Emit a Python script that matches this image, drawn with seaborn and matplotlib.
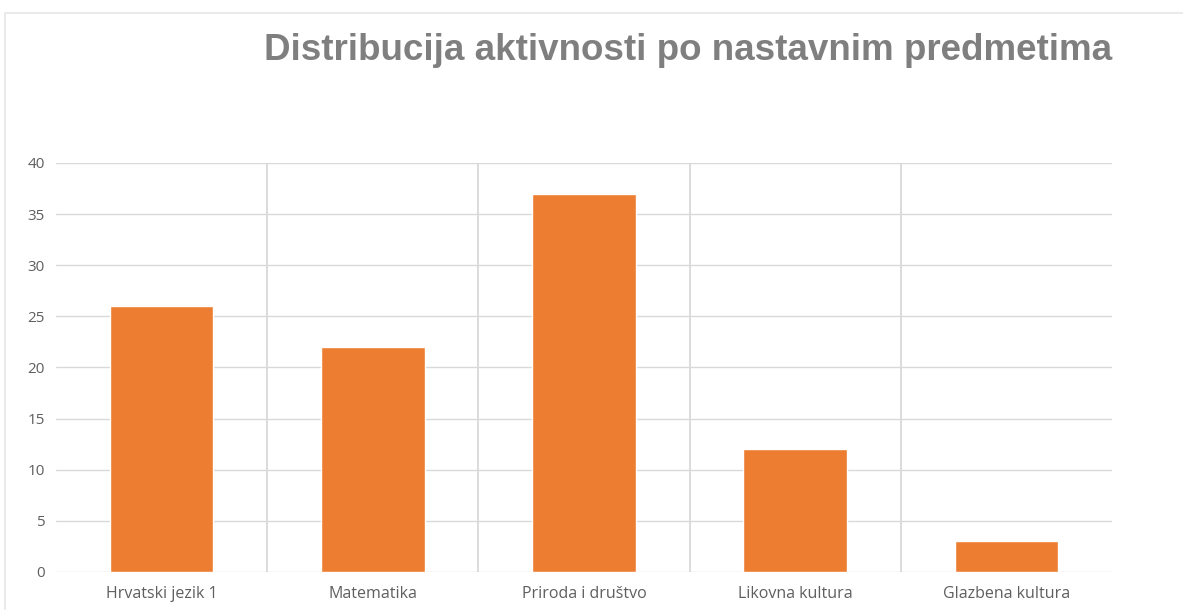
import matplotlib
matplotlib.use("Agg")
import matplotlib.pyplot as plt
import seaborn as sns
import numpy as np
import pandas as pd
from matplotlib.patches import Rectangle

categories = ["Hrvatski jezik 1", "Matematika", "Priroda i društvo", "Likovna kultura", "Glazbena kultura"]
values = [26, 22, 37, 12, 3]
yticks = [0, 5, 10, 15, 20, 25, 30, 35, 40]
title = "Distribucija aktivnosti po nastavnim predmetima"

df = pd.DataFrame({"predmet": categories, "broj": values})

sns.set_theme(style="white")
plt.rcParams['font.family'] = ['Open Sans', 'DejaVu Sans']

fig = plt.figure(figsize=(11.83, 6.10), dpi=100)
ax = fig.add_axes([0.0473, 0.0623, 0.8927, 0.6705])

sns.barplot(data=df, x="predmet", y="broj", color="#ED7D31", width=0.49,
            saturation=1, ax=ax, zorder=3)

ax.set_ylim(0, 40)
ax.set_xlim(-0.5, len(categories) - 0.5)
ax.set_yticks(yticks)
ax.set_yticklabels([str(t) for t in yticks])
ax.set_xticks(np.arange(len(categories) - 1) + 0.5, minor=True)
ax.grid(axis="y", which="major", color="#d9d9d9", linewidth=1.0, zorder=0)
ax.grid(axis="x", which="minor", color="#d9d9d9", linewidth=1.3, zorder=0)
ax.grid(axis="x", which="major", visible=False)
ax.tick_params(axis="both", which="both", length=0, colors="#5f5f5f")
ax.tick_params(axis="x", labelsize=11.5, pad=10)
ax.tick_params(axis="y", labelsize=11, pad=8)
ax.set_xlabel("")
ax.set_ylabel("")
for s in ax.spines.values():
    s.set_visible(False)

fig.text(0.5817, 0.918, title, ha="center", va="center", fontsize=26.5, fontweight="bold",
         color="#7f7f7f", family=["Liberation Sans", "DejaVu Sans"])

# chart frame
fig.patches.append(Rectangle((5 / 1183, -0.05), 1.2, (610 - 13) / 610 + 0.05,
                             transform=fig.transFigure, fill=False,
                             edgecolor="#e6e6e6", linewidth=1.2))

fig.savefig("out.png", dpi=100, facecolor="white")
